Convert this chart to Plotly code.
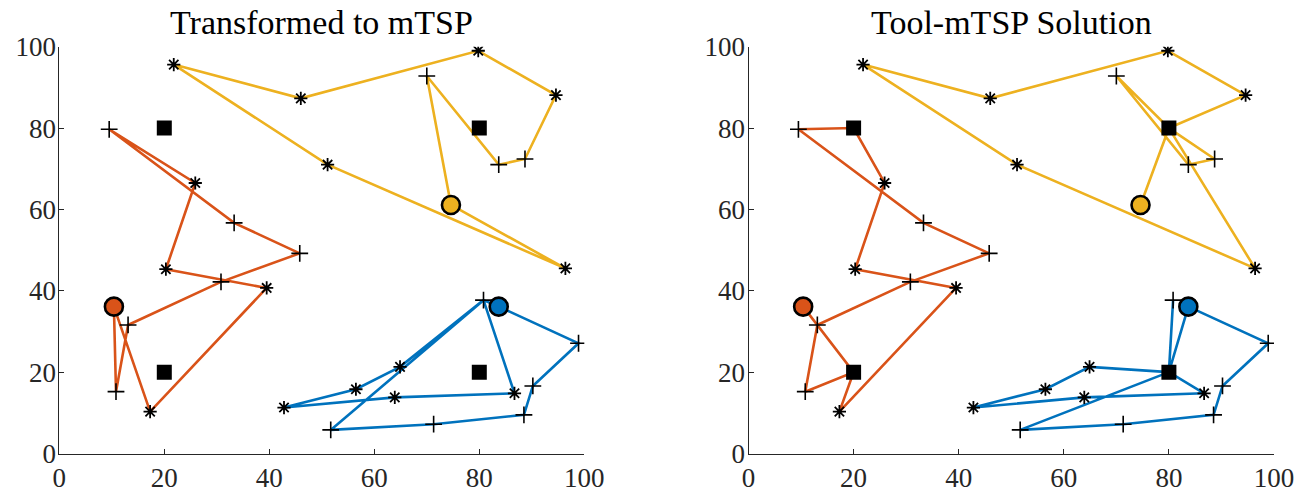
import plotly.graph_objects as go

# ---- data ----
plus_ids = ["P0", "P1", "P2", "P3", "P4", "P5", "P6", "P7", "P8", "P9", "P10", "P11", "P12", "P13", "P14"]
plus_x = [9.5, 33.3, 45.8, 30.8, 13.1, 10.8, 70.0, 83.7, 88.7, 80.8, 98.9, 90.2, 88.5, 71.3, 51.7]
plus_y = [79.7, 56.7, 49.2, 42.2, 31.6, 15.2, 92.8, 71.0, 72.4, 37.7, 27.1, 16.6, 9.5, 7.2, 5.8]

star_ids = ["S0", "S1", "S2", "S3", "S4", "S5", "S6", "S7", "S8", "S9", "S10", "S11", "S12", "S13", "S14"]
star_x = [21.8, 46.0, 79.8, 94.6, 51.1, 25.9, 20.3, 39.5, 17.3, 96.4, 64.9, 56.5, 63.9, 86.7, 42.8]
star_y = [95.6, 87.3, 99.0, 88.1, 71.0, 66.5, 45.3, 40.7, 10.3, 45.5, 21.3, 15.8, 13.8, 14.8, 11.3]

depot_ids = ["D0", "D1", "D2"]
depot_x = [10.4, 83.7, 74.6]
depot_y = [36.1, 36.1, 61.1]

station_ids = ["F0", "F1", "F2", "F3"]
station_x = [20, 80, 20, 80]
station_y = [80, 80, 20, 20]

route_colors = ["#D95319", "#0072BD", "#EDB120"]

left_routes = [
    ["D0", "P5", "P4", "P3", "P2", "P1", "P0", "S5", "S6", "S7", "S8", "D0"],
    ["D1", "P10", "P11", "P12", "P13", "P14", "P9", "S10", "S11", "S14", "S12", "S13", "P9", "D1"],
    ["D2", "P6", "P7", "P8", "S3", "S2", "S1", "S0", "S4", "S9", "D2"],
]
right_routes = [
    ["D0", "F2", "P5", "P4", "P3", "P2", "P1", "P0", "F0", "S5", "S6", "S7", "S8", "F2", "D0"],
    ["D1", "P10", "P11", "P12", "P13", "P14", "F3", "S10", "S11", "S14", "S12", "S13", "F3", "P9", "F3", "D1"],
    ["D2", "F1", "P6", "P7", "P8", "F1", "S3", "S2", "S1", "S0", "S4", "S9", "F1", "D2"],
]
titles = ["Transformed to mTSP", "Tool-mTSP Solution"]
tick_vals = [0, 20, 40, 60, 80, 100]

# ---- lookup ----
pos = {}
for ids, xs, ys in [(plus_ids, plus_x, plus_y), (star_ids, star_x, star_y),
                    (depot_ids, depot_x, depot_y), (station_ids, station_x, station_y)]:
    for i, x, y in zip(ids, xs, ys):
        pos[i] = (x, y)

fig = go.Figure()
FONT = "Liberation Serif, Times New Roman, serif"
AX_COL = "#262626"

for k, routes in enumerate([left_routes, right_routes]):
    xa = "x" if k == 0 else "x2"
    ya = "y" if k == 0 else "y2"
    for r, col in zip(routes, route_colors):
        fig.add_trace(go.Scatter(x=[pos[n][0] for n in r], y=[pos[n][1] for n in r],
                                 mode="lines", line=dict(color=col, width=2.6),
                                 xaxis=xa, yaxis=ya, showlegend=False, hoverinfo="skip"))
    fig.add_trace(go.Scatter(x=plus_x, y=plus_y, mode="markers", xaxis=xa, yaxis=ya,
                             marker=dict(symbol="cross-thin", size=12, color="black",
                                         line=dict(color="black", width=1.6)),
                             showlegend=False))
    fig.add_trace(go.Scatter(x=star_x, y=star_y, mode="markers", xaxis=xa, yaxis=ya,
                             marker=dict(symbol="asterisk", size=11, color="black",
                                         line=dict(color="black", width=1.8)),
                             showlegend=False))
    fig.add_trace(go.Scatter(x=station_x, y=station_y, mode="markers", xaxis=xa, yaxis=ya,
                             marker=dict(symbol="square", size=15, color="black",
                                         line=dict(width=0)),
                             showlegend=False))
    fig.add_trace(go.Scatter(x=depot_x, y=depot_y, mode="markers", xaxis=xa, yaxis=ya,
                             marker=dict(symbol="circle", size=18, color=route_colors,
                                         line=dict(color="black", width=2.6)),
                             showlegend=False))

W, H = 1314, 492
ydom = [(H - 453.5) / H, (H - 46.7) / H]
xdoms = [[59.3 / W, 584.3 / W], [748.5 / W, 1274.0 / W]]

axis_common = dict(range=[0, 100], tickvals=tick_vals, ticks="inside", ticklen=5,
                   tickcolor=AX_COL, showline=True, linecolor=AX_COL, linewidth=1,
                   showgrid=False, zeroline=False, mirror=False, automargin=False,
                   tickfont=dict(family=FONT, size=27, color=AX_COL))

fig.update_layout(
    template="none",
    width=W, height=H, margin=dict(l=0, r=0, t=0, b=0, pad=0),
    plot_bgcolor="white", paper_bgcolor="white",
    xaxis=dict(domain=xdoms[0], anchor="y", **axis_common),
    yaxis=dict(domain=ydom, anchor="x", ticklabelstandoff=-3, **axis_common),
    xaxis2=dict(domain=xdoms[1], anchor="y2", **axis_common),
    yaxis2=dict(domain=ydom, anchor="x2", ticklabelstandoff=-3, **axis_common),
)

for k, t in enumerate(titles):
    fig.add_annotation(text=t, x=(xdoms[k][0] + xdoms[k][1]) / 2, xref="paper",
                       y=(H - 42.0) / H, yref="paper", yanchor="bottom", xanchor="center",
                       showarrow=False, borderpad=0,
                       font=dict(family=FONT, size=34, color="black"))

# remove the page's default body margin so the figure fills the window exactly
fig.write_html("out.html", config={"displayModeBar": False},
               post_script="document.body.style.margin='0px';document.body.style.overflow='hidden';")
